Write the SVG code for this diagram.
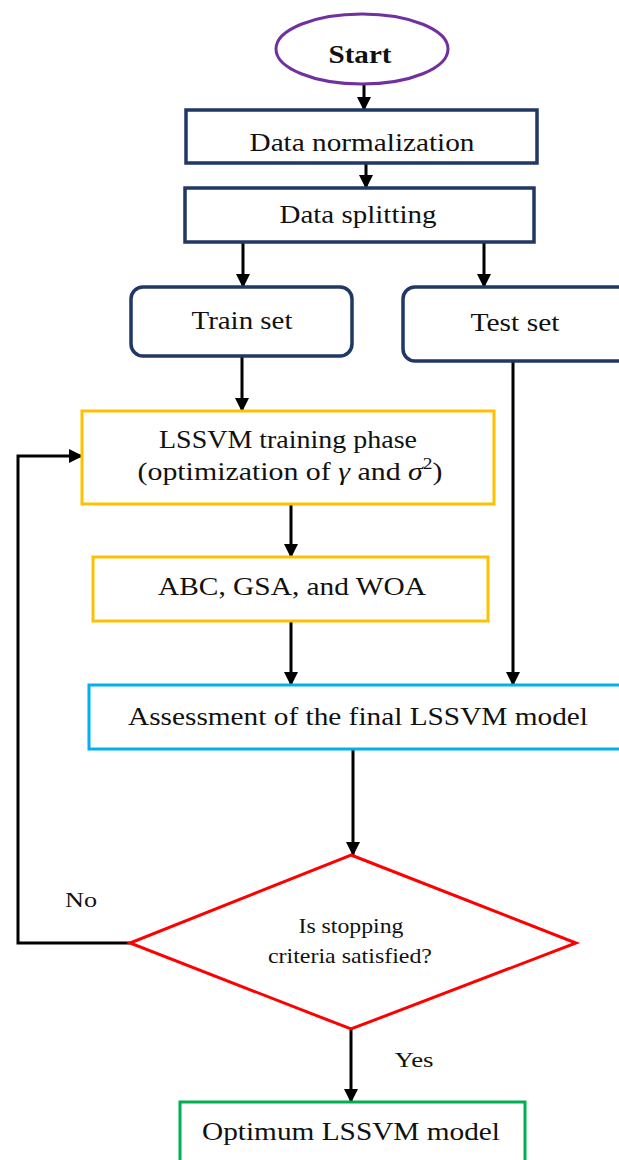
<svg xmlns="http://www.w3.org/2000/svg" width="619" height="1160" viewBox="0 0 619 1160">
<defs>
<marker id="ah" markerUnits="userSpaceOnUse" markerWidth="14" markerHeight="14" viewBox="0 0 14 14" refX="13" refY="7" orient="auto">
<path d="M0,0 L14,7 L0,14 Z" fill="#000"/>
</marker>
</defs>
<style>
.t{font-family:"Liberation Serif","Times New Roman",serif;font-size:26px;fill:#111;text-anchor:middle}
.s{font-family:"Liberation Serif","Times New Roman",serif;font-size:22px;fill:#111;text-anchor:middle}
.c{fill:none;stroke:#000;stroke-width:3;marker-end:url(#ah)}
.nv{fill:#fff;stroke:#1f3864;stroke-width:3.5}
</style>
<rect width="619" height="1160" fill="#fff"/>
<g id="connectors">
<line class="c" x1="364" y1="84" x2="364" y2="110"/>
<line class="c" x1="366" y1="163" x2="366" y2="188"/>
<line class="c" x1="243" y1="242" x2="243" y2="287"/>
<line class="c" x1="484" y1="242" x2="484" y2="287"/>
<line class="c" x1="242" y1="356" x2="242" y2="411"/>
<line class="c" x1="291" y1="504" x2="291" y2="557"/>
<line class="c" x1="291" y1="621" x2="291" y2="685"/>
<line class="c" x1="513" y1="361" x2="513" y2="685"/>
<line class="c" x1="353" y1="749" x2="353" y2="855"/>
<line class="c" x1="351" y1="1029" x2="351" y2="1102"/>
<polyline class="c" points="130,943 18,943 18,456 82,456"/>
<text class="s" x="81" y="907" textLength="32" lengthAdjust="spacingAndGlyphs">No</text>
<text class="s" x="414" y="1067" textLength="39" lengthAdjust="spacingAndGlyphs">Yes</text>
</g>
<g id="start">
<ellipse cx="362" cy="49" rx="86" ry="35" fill="#fff" stroke="#7030a0" stroke-width="3"/>
<text class="t" x="360" y="63" font-weight="bold" textLength="63" lengthAdjust="spacingAndGlyphs">Start</text>
</g>
<g id="normalization">
<rect class="nv" x="186" y="110" width="351" height="53"/>
<text class="t" x="362" y="151" textLength="225" lengthAdjust="spacingAndGlyphs">Data normalization</text>
</g>
<g id="splitting">
<rect class="nv" x="185" y="188" width="349" height="54"/>
<text class="t" x="358" y="223" textLength="157" lengthAdjust="spacingAndGlyphs">Data splitting</text>
</g>
<g id="train">
<rect class="nv" x="131" y="287" width="221" height="69" rx="12"/>
<text class="t" x="242" y="329" textLength="101" lengthAdjust="spacingAndGlyphs">Train set</text>
</g>
<g id="test">
<rect class="nv" x="403" y="287" width="230" height="74" rx="12"/>
<text class="t" x="515" y="331" textLength="89" lengthAdjust="spacingAndGlyphs">Test set</text>
</g>
<g id="lssvm">
<rect x="82" y="411" width="412" height="93" fill="#fff" stroke="#ffc000" stroke-width="3"/>
<text class="t" x="288" y="448" textLength="258" lengthAdjust="spacingAndGlyphs">LSSVM training phase</text>
<text class="t" x="290" y="480" textLength="305" lengthAdjust="spacingAndGlyphs">(optimization of <tspan font-style="italic">γ</tspan> and <tspan font-style="italic">σ</tspan><tspan font-size="17" dy="-11">2</tspan><tspan dy="11">)</tspan></text>
</g>
<g id="abc">
<rect x="93" y="557" width="395" height="64" fill="#fff" stroke="#ffc000" stroke-width="3"/>
<text class="t" x="292" y="595" textLength="268" lengthAdjust="spacingAndGlyphs">ABC, GSA, and WOA</text>
</g>
<g id="assessment">
<rect x="89" y="685" width="540" height="64" fill="#fff" stroke="#00b0f0" stroke-width="3"/>
<text class="t" x="358" y="725" textLength="460" lengthAdjust="spacingAndGlyphs">Assessment of the final LSSVM model</text>
</g>
<g id="decision">
<polygon points="351,855 576,943 351,1029 130,943" fill="#fff" stroke="#ff0000" stroke-width="3"/>
<text class="s" x="351" y="933" textLength="105" lengthAdjust="spacingAndGlyphs">Is stopping</text>
<text class="s" x="350" y="963" textLength="164" lengthAdjust="spacingAndGlyphs">criteria satisfied?</text>
</g>
<g id="optimum">
<rect x="180" y="1102" width="345" height="70" fill="#fff" stroke="#00b050" stroke-width="3"/>
<text class="t" x="351" y="1140" textLength="298" lengthAdjust="spacingAndGlyphs">Optimum LSSVM model</text>
</g>
</svg>
